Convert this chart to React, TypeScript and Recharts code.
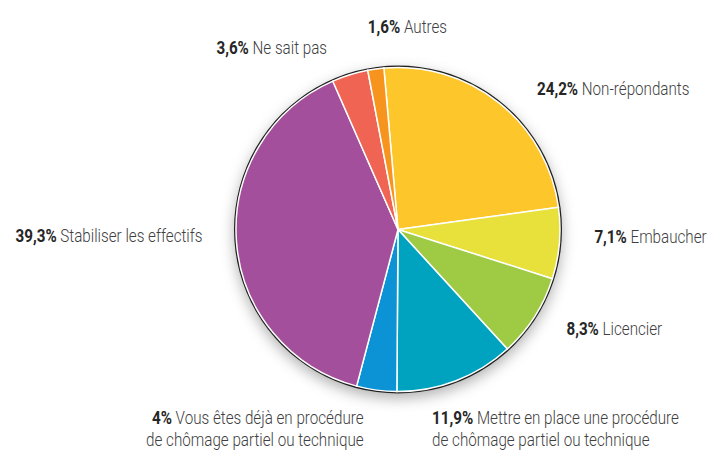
import { PieChart, Pie, Cell } from "recharts";

const labels = [
  "Non-répondants",
  "Embaucher",
  "Licencier",
  "Mettre en place une procédure\nde chômage partiel ou technique",
  "Vous êtes déjà en procédure\nde chômage partiel ou technique",
  "Stabiliser les effectifs",
  "Ne sait pas",
  "Autres",
];
const shares = [24.2, 7.1, 8.3, 11.9, 4, 39.3, 3.6, 1.6];
const colors = [
  "#FDC62A",
  "#E9E13B",
  "#9ECB43",
  "#00A3BF",
  "#0B93D6",
  "#A44F9B",
  "#EF6452",
  "#F7941E",
];

const data = labels.map((name, i) => ({ name, value: shares[i] }));

// nudges from the slice's outer edge to where each label sits
const labelNudge: [number, number, "start" | "end"][] = [
  [38, -8, "start"],
  [35, 0, "start"],
  [32, 18, "start"],
  [-24, 43, "start"],
  [-13, 34, "end"],
  [-34, 0, "end"],
  [-23, -21, "end"],
  [-8, -36, "start"],
];

const FONT = "Roboto, 'Liberation Sans', sans-serif";
const SQUEEZE = 0.8; // the original uses a condensed face
const RAD = Math.PI / 180;

const fmt = (v: number) => String(v).replace(".", ",") + "%";

function renderLabel(props: any) {
  const { cx, cy, midAngle, outerRadius, index, value, name } = props;
  const x0 = cx + outerRadius * Math.cos(-midAngle * RAD);
  const y0 = cy + outerRadius * Math.sin(-midAngle * RAD);
  const [dx, dy, anchor] = labelNudge[index];
  const lines = String(name).split("\n");
  return (
    <text
      x={0}
      y={0}
      transform={`translate(${x0 + dx},${y0 + dy}) scale(${SQUEEZE},1)`}
      textAnchor={anchor}
      fontFamily={FONT}
      fontSize={19}
      fontWeight={300}
      fill="#404040"
    >
      <tspan fontWeight="bold" fill="#262626">
        {fmt(value)}
      </tspan>
      <tspan> {lines[0]}</tspan>
      {lines.slice(1).map((l, k) => (
        <tspan key={k} x={0} dy={22}>
          {l}
        </tspan>
      ))}
    </text>
  );
}

export default function App() {
  return (
    <div style={{ position: "absolute", left: 0, top: 0, background: "#fff" }}>
      <PieChart width={707} height={452} margin={{ top: 0, right: 0, bottom: 0, left: 0 }}>
        <defs>
          <filter id="pieShadow" x="-20%" y="-20%" width="140%" height="140%">
            <feDropShadow dx="0" dy="5" stdDeviation="7" floodColor="#000" floodOpacity="0.3" />
          </filter>
        </defs>
        <Pie
          data={[{ value: 1 }]}
          dataKey="value"
          cx={398}
          cy={229.5}
          outerRadius={164}
          startAngle={90}
          endAngle={-270}
          stroke="none"
          isAnimationActive={false}
        >
          <Cell fill="#222" filter="url(#pieShadow)" />
        </Pie>
        <Pie
          data={data}
          dataKey="value"
          nameKey="name"
          cx={398}
          cy={229.5}
          outerRadius={162}
          startAngle={95}
          endAngle={-265}
          stroke="#fff"
          strokeWidth={1.5}
          label={renderLabel}
          labelLine={false}
          isAnimationActive={false}
        >
          {data.map((d, i) => (
            <Cell key={d.name} fill={colors[i]} />
          ))}
        </Pie>
      </PieChart>
    </div>
  );
}
